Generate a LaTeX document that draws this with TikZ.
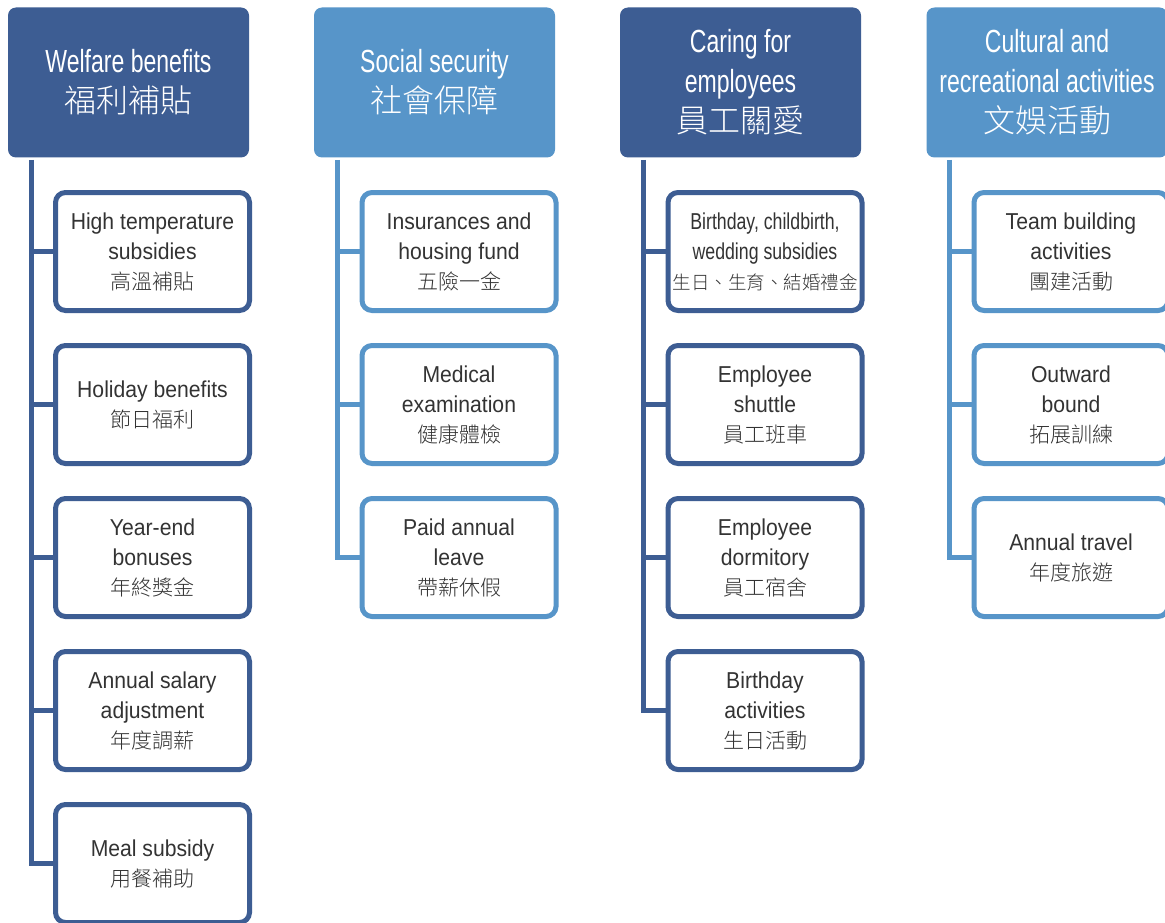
\documentclass[tikz,border=0pt]{standalone}
\usepackage{fontspec}
\setmainfont{Liberation Sans}[FakeStretch=0.92]
\newfontfamily\hdrfont{Liberation Sans}[FakeStretch=0.72]
\newfontfamily\narfont{Liberation Sans}[FakeStretch=0.77]
\newfontfamily\cjk{Noto Sans CJK TC Light}
\definecolor{dblue}{HTML}{3D5D93}
\definecolor{lblue}{HTML}{5795C9}
\definecolor{txt}{HTML}{333333}
\newcommand\hc[1]{{\cjk\fontsize{32}{40}\selectfont #1}}
\newcommand\ic[1]{{\cjk\fontsize{21}{30}\selectfont #1}}
\newcommand\icn[1]{{\cjk\fontsize{18.5}{30}\selectfont #1}}
\begin{document}
\begin{tikzpicture}[x=1pt,y=-1pt,
  hdr/.style={fill=#1, rounded corners=8pt, minimum width=241pt, minimum height=150pt,
    text=white, align=center, font=\hdrfont\fontsize{32}{40}\selectfont, inner sep=0pt},
  item/.style={draw=#1, line width=5pt, fill=white, rounded corners=10pt,
    minimum width=194pt, minimum height=118pt, text=txt, align=center,
    font=\fontsize{23}{30}\selectfont, inner sep=0pt, text depth=0pt},
  conn/.style={draw=#1, line width=5pt}]
\useasboundingbox[fill=white] (0,0) rectangle (1165,923);

% headers
\node[hdr=dblue] (h1) at (128.5,82.5) {Welfare benefits\\\hc{福利補貼}};
\node[hdr=lblue] (h2) at (434.5,82.5) {Social security\\\hc{社會保障}};
\node[hdr=dblue] (h3) at (740.5,82.5) {Caring for\\employees\\\hc{員工關愛}};
\node[hdr=lblue] (h4) at (1047,82.5) {Cultural and\\recreational activities\\\hc{文娛活動}};

% trunk start points
\coordinate (v1) at (31,160);
\coordinate (v2) at (337,160);
\coordinate (v3) at (643,160);
\coordinate (v4) at (949,160);

% column 1
\node[item=dblue] (a1) at (152.5,251.5) {High temperature\\subsidies\\\ic{高溫補貼}};
\node[item=dblue] (a2) at (152.5,404.5) {Holiday benefits\\\ic{節日福利}};
\node[item=dblue] (a3) at (152.5,557.5) {Year-end\\bonuses\\\ic{年終獎金}};
\node[item=dblue] (a4) at (152.5,710.5) {Annual salary\\adjustment\\\ic{年度調薪}};
\node[item=dblue] (a5) at (152.5,863.5) {Meal subsidy\\\ic{用餐補助}};

% column 2
\node[item=lblue] (b1) at (459,251.5) {Insurances and\\housing fund\\\ic{五險一金}};
\node[item=lblue] (b2) at (459,404.5) {Medical\\examination\\\ic{健康體檢}};
\node[item=lblue] (b3) at (459,557.5) {Paid annual\\leave\\\ic{帶薪休假}};

% column 3
\node[item=dblue] (c1) at (765,251.5) {{\narfont Birthday, childbirth,}\\{\narfont wedding subsidies}\\\icn{生日、生育、結婚禮金}};
\node[item=dblue] (c2) at (765,404.5) {Employee\\shuttle\\\ic{員工班車}};
\node[item=dblue] (c3) at (765,557.5) {Employee\\dormitory\\\ic{員工宿舍}};
\node[item=dblue] (c4) at (765,710.5) {Birthday\\activities\\\ic{生日活動}};

% column 4
\node[item=lblue] (d1) at (1071,251.5) {Team building\\activities\\\ic{團建活動}};
\node[item=lblue] (d2) at (1071,404.5) {Outward\\bound\\\ic{拓展訓練}};
\node[item=lblue] (d3) at (1071,557.5) {Annual travel\\\ic{年度旅遊}};

% connectors
\draw[conn=dblue] (v1) |- (a5.west);
\foreach \n in {a1,a2,a3,a4} \draw[conn=dblue] (v1 |- \n.west) -- (\n.west);
\draw[conn=lblue] (v2) |- (b3.west);
\foreach \n in {b1,b2} \draw[conn=lblue] (v2 |- \n.west) -- (\n.west);
\draw[conn=dblue] (v3) |- (c4.west);
\foreach \n in {c1,c2,c3} \draw[conn=dblue] (v3 |- \n.west) -- (\n.west);
\draw[conn=lblue] (v4) |- (d3.west);
\foreach \n in {d1,d2} \draw[conn=lblue] (v4 |- \n.west) -- (\n.west);
\end{tikzpicture}
\end{document}
